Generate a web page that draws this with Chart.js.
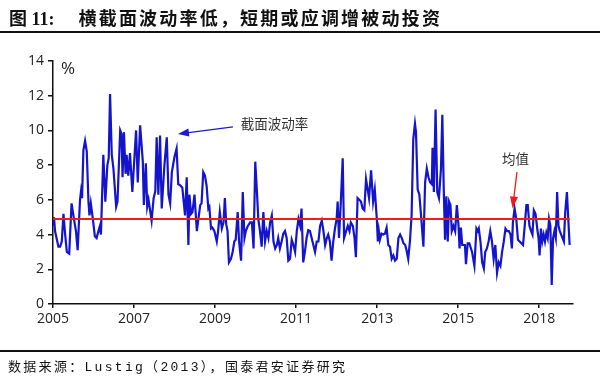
<!DOCTYPE html>
<html>
<head>
<meta charset="utf-8">
<script src="https://cdn.jsdelivr.net/npm/chart.js@4"></script>
<style>
    body { margin: 0; background: #fff; }
    #wrap { position: relative; width: 600px; height: 377px; overflow: hidden; }
    #chart { position: absolute; left: 0; top: 0; }
    .title { position: absolute; left: 9px; top: 4px; font-size: 18px; font-weight: bold; color: #111;
        font-family: "Liberation Serif", "Noto Sans CJK SC", serif; white-space: nowrap; letter-spacing: 2.2px; }
    .title .num { margin-right: 24px; letter-spacing: 0; }
    .rule { position: absolute; left: 0; width: 600px; height: 2px; background: #111; }
    .source { position: absolute; left: 8px; top: 356px; font-size: 13px; color: #111;
        font-family: "Liberation Mono", "Noto Sans CJK SC", monospace; white-space: nowrap; letter-spacing: 2.3px; }
</style>
</head>
<body>
<div id="wrap">
    <canvas id="chart" width="600" height="377"></canvas>
    <div class="title"><span class="num">图 11:</span>横截面波动率低，短期或应调增被动投资</div>
    <div class="rule" style="top:31px"></div>
    <div class="rule" style="top:350px"></div>
    <div class="source">数据来源：Lustig（2013），国泰君安证券研究</div>
</div>
<script>
// months counted from Jan 2005
const monthIdx = [
    0, 0.3, 0.6, 1.6, 2.1, 2.6, 3.1, 3.6, 4.1, 4.8, 5.5, 6.2, 6.8, 7.3, 8.0, 8.3, 8.6, 9.0, 9.5, 10.0,
    10.5, 10.8, 11.2, 11.8, 12.4, 12.9, 13.6, 13.9, 14.2, 14.9, 15.5, 16.1, 16.5, 16.9, 17.4, 17.9, 18.7, 19.1, 19.9, 20.3,
    20.6, 21.0, 21.5, 21.8, 22.3, 22.8, 23.5, 24.6, 25.1, 25.8, 26.6, 26.9, 27.5, 27.9, 28.3, 29.2, 29.8, 30.3, 30.7, 31.2,
    31.7, 32.2, 33.0, 33.7, 34.2, 34.7, 35.2, 36.0, 36.6, 37.1, 37.6, 38.3, 39.1, 39.6, 40.1, 40.4, 40.9, 41.3, 41.9, 42.6,
    43.6, 44.0, 44.5, 45.0, 45.5, 46.0, 46.3, 46.8, 47.2, 47.8, 48.5, 48.9, 49.4, 50.0, 50.5, 50.9, 51.3, 51.7, 52.1, 52.7,
    53.2, 53.7, 54.1, 54.7, 55.1, 55.7, 56.2, 56.7, 57.1, 57.7, 58.4, 58.9, 59.4, 59.9, 60.4, 60.8, 61.3, 61.8, 62.3, 62.8,
    63.3, 63.8, 64.3, 64.8, 65.3, 65.8, 66.3, 66.7, 67.2, 67.7, 68.2, 68.7, 69.2, 69.7, 70.2, 70.7, 71.2, 71.7, 72.2, 72.7,
    73.2, 73.6, 74.1, 74.6, 75.1, 75.6, 76.1, 76.6, 77.1, 77.6, 78.1, 78.6, 79.1, 79.6, 80.1, 80.6, 81.1, 81.5, 82.0, 82.5,
    83.0, 83.5, 84.0, 84.3, 84.7, 85.2, 85.8, 86.2, 86.8, 87.3, 87.8, 88.2, 88.8, 89.3, 89.7, 90.2, 90.7, 91.2, 91.7, 92.2,
    92.7, 93.6, 94.2, 94.8, 95.3, 95.9, 96.2, 96.5, 96.8, 97.3, 97.8, 98.3, 98.8, 99.3, 99.8, 100.3, 100.8, 101.3, 101.8, 102.3,
    102.8, 103.3, 103.8, 104.3, 104.7, 105.2, 105.7, 106.2, 106.7, 107.2, 107.5, 108.0, 108.5, 109.0, 109.7, 110.2, 110.7, 111.2, 111.7, 112.2,
    112.4, 112.8, 113.3, 113.8, 114.3, 114.9, 115.3, 115.7, 116.1, 116.5, 116.9, 117.3, 117.7, 118.1, 118.6, 119.1, 119.6, 120.1, 120.4, 120.8,
    121.2, 121.6, 122.0, 122.3, 122.8, 123.3, 124.1, 124.8, 125.4, 125.8, 126.1, 126.6, 127.1, 127.6, 128.0, 128.5, 129.0, 129.5, 130.0, 130.5,
    131.0, 131.5, 132.0, 132.5, 133.0, 133.5, 134.0, 134.5, 135.0, 135.5, 135.9, 136.2, 136.7, 137.2, 137.7, 138.2, 138.7, 139.2, 139.7, 140.2,
    140.6, 141.1, 141.6, 142.0, 142.4, 142.9, 143.4, 143.8, 144.1, 144.5, 144.9, 145.3, 145.7, 146.1, 146.5, 146.9, 147.3, 147.7, 148.1, 148.5,
    148.9, 149.3, 149.7, 150.1, 150.5, 150.9, 151.3, 151.7, 152.2, 152.6, 153.0
];
// cross-sectional volatility, %
const volPct = [
    4.5, 5.0, 4.2, 3.3, 3.3, 3.6, 5.2, 4.0, 3.0, 2.9, 5.8, 4.9, 4.2, 3.1, 6.0, 6.5, 6.1, 8.85, 9.4, 8.8,
    5.9, 5.1, 5.8, 4.9, 3.9, 3.8, 4.3, 4.5, 4.0, 8.6, 5.9, 8.0, 8.4, 12.1, 8.6, 7.8, 5.6, 5.9, 10.0, 9.8,
    7.3, 9.9, 7.5, 8.6, 7.4, 8.7, 6.45, 10.0, 7.0, 10.3, 8.2, 5.7, 8.1, 5.6, 6.0, 4.8, 6.1, 6.5, 9.6, 6.3,
    9.7, 5.5, 8.0, 9.6, 6.3, 5.8, 7.6, 8.5, 8.95, 6.9, 6.85, 6.7, 5.1, 7.3, 3.4, 6.3, 5.2, 5.3, 6.3, 4.2,
    5.7, 5.8, 7.6, 7.4, 6.8, 5.5, 5.6, 4.35, 4.4, 4.2, 3.6, 4.2, 5.3, 4.35, 4.7, 6.1, 4.6, 4.2, 2.4, 2.6,
    3.0, 3.6, 3.7, 5.3, 3.6, 2.5, 6.45, 3.8, 4.2, 4.5, 4.7, 4.7, 3.2, 8.2, 6.45, 4.9, 4.2, 3.3, 5.3, 3.6,
    4.2, 3.8, 4.7, 5.1, 3.6, 3.2, 3.4, 3.8, 3.2, 3.6, 4.05, 4.2, 3.8, 2.5, 2.6, 3.7, 3.4, 3.0, 4.2, 4.9,
    4.5, 5.5, 2.4, 3.0, 3.8, 4.25, 4.2, 3.8, 3.4, 3.0, 3.6, 3.6, 4.5, 4.8, 4.2, 3.4, 3.8, 4.0, 3.6, 2.5,
    3.6, 4.35, 4.9, 5.9, 3.8, 5.7, 8.4, 3.8, 4.2, 4.5, 4.2, 4.7, 4.5, 3.8, 2.7, 6.1, 6.0, 5.9, 5.5, 5.4,
    7.2, 6.1, 7.7, 5.9, 6.6, 4.9, 3.6, 4.2, 3.7, 4.05, 4.0, 4.05, 4.4, 3.4, 3.3, 2.6, 2.8, 2.5, 2.6, 3.8,
    4.0, 3.8, 3.5, 3.4, 3.1, 2.6, 3.6, 5.1, 9.5, 10.4, 9.9, 6.6, 6.3, 5.1, 3.3, 7.0, 7.8, 7.3, 7.0, 6.9,
    9.0, 6.45, 11.2, 6.45, 6.1, 7.8, 10.9, 6.8, 3.7, 6.2, 3.6, 5.9, 5.7, 4.2, 4.5, 4.2, 5.7, 4.5, 3.2, 4.4,
    3.4, 3.4, 3.4, 2.3, 3.5, 3.5, 3.0, 2.2, 4.35, 4.2, 4.35, 3.6, 2.4, 2.05, 3.0, 3.2, 3.6, 4.2, 3.6, 2.6,
    3.4, 1.8, 2.4, 2.2, 3.0, 3.6, 4.35, 4.2, 4.2, 4.0, 3.2, 4.7, 5.5, 4.9, 3.7, 3.6, 3.5, 3.4, 4.5, 5.7,
    5.7, 4.5, 4.2, 4.0, 5.4, 5.2, 4.35, 3.8, 2.8, 4.35, 3.6, 4.0, 3.6, 4.1, 3.8, 4.9, 4.5, 1.1, 3.8, 4.2,
    3.8, 6.45, 4.5, 4.2, 4.0, 3.8, 3.6, 5.3, 6.45, 4.9, 3.4
];
const meanPct = 4.9;
const tickMonths = [0, 24, 48, 72, 96, 120, 144];
const yearLabels = ['2005', '2007', '2009', '2011', '2013', '2015', '2018'];

const tickFont = { family: "'Open Sans', Lato, sans-serif", size: 14 };
const cjkFont = "'Noto Sans CJK SC', sans-serif";

// arrow from text to the line
function drawArrow(ctx, x0, y0, x1, y1, color, head, half) {
    const ang = Math.atan2(y1 - y0, x1 - x0);
    ctx.strokeStyle = color;
    ctx.fillStyle = color;
    ctx.lineWidth = 1.3;
    ctx.beginPath();
    ctx.moveTo(x0, y0);
    ctx.lineTo(x1 - Math.cos(ang) * head * 0.8, y1 - Math.sin(ang) * head * 0.8);
    ctx.stroke();
    ctx.beginPath();
    ctx.moveTo(x1, y1);
    ctx.lineTo(x1 - Math.cos(ang) * head - Math.sin(ang) * half, y1 - Math.sin(ang) * head + Math.cos(ang) * half);
    ctx.lineTo(x1 - Math.cos(ang) * head + Math.sin(ang) * half, y1 - Math.sin(ang) * head - Math.cos(ang) * half);
    ctx.closePath();
    ctx.fill();
}

const notesPlugin = {
    id: 'notes',
    afterDatasetsDraw(chart) {
        const { ctx, chartArea } = chart;
        const x = chart.scales.x, y = chart.scales.y;
        ctx.save();
        ctx.fillStyle = '#222';
        ctx.font = "17px 'Open Sans', sans-serif";
        ctx.textBaseline = 'middle';
        ctx.fillText('%', chartArea.left + 8, chartArea.top + 8);

        ctx.font = '13.5px ' + cjkFont;
        ctx.fillStyle = '#333';
        ctx.textAlign = 'left';
        ctx.fillText('截面波动率', x.getPixelForValue(55.6), y.getPixelForValue(10.35));
        drawArrow(ctx, x.getPixelForValue(53.3), y.getPixelForValue(10.2),
            x.getPixelForValue(37.0), y.getPixelForValue(9.8), '#1a1ad0', 11, 4);

        ctx.fillStyle = '#333';
        ctx.textAlign = 'center';
        ctx.fillText('均值', x.getPixelForValue(137.0), y.getPixelForValue(8.35));
        drawArrow(ctx, x.getPixelForValue(137.4), y.getPixelForValue(7.6),
            x.getPixelForValue(136.1), y.getPixelForValue(5.5), '#ee1c1c', 12, 4);
        ctx.restore();
    }
};

const ctx = document.getElementById('chart').getContext('2d');
new Chart(ctx, {
    type: 'line',
    data: {
        datasets: [
            {
                label: '均值',
                data: [{ x: 0, y: meanPct }, { x: monthIdx[monthIdx.length - 1], y: meanPct }],
                borderColor: '#ee1c1c',
                borderWidth: 2,
                pointRadius: 0,
                order: 0,
            },
            {
                label: '截面波动率',
                data: monthIdx.map((m, k) => ({ x: m, y: volPct[k] })),
                borderColor: '#1414cc',
                borderWidth: 2.2,
                pointRadius: 0,
                tension: 0,
                order: 1,
            },
        ],
    },
    options: {
        responsive: false,
        animation: false,
        layout: { padding: { left: 0, top: 61, right: 27, bottom: 43 } },
        plugins: { legend: { display: false }, tooltip: { enabled: false } },
        scales: {
            x: {
                type: 'linear', min: 0, max: 154,
                afterBuildTicks: (scale) => { scale.ticks = tickMonths.map(v => ({ value: v })); },
                afterFit: (scale) => { scale.height = 30; },
                ticks: {
                    color: '#222', font: tickFont, padding: 3, maxRotation: 0,
                    callback: (v) => yearLabels[tickMonths.indexOf(v)],
                },
                grid: { drawOnChartArea: false, drawTicks: true, tickLength: 4, color: '#111', lineWidth: 1.5 },
                border: { color: '#111', width: 1.5 },
            },
            y: {
                min: 0, max: 14,
                afterFit: (scale) => { scale.width = 53; },
                ticks: { stepSize: 2, color: '#222', font: tickFont, padding: 4 },
                grid: { drawOnChartArea: false, drawTicks: true, tickLength: 5, color: '#111', lineWidth: 1.5 },
                border: { color: '#111', width: 1.5 },
            },
        },
    },
    plugins: [notesPlugin],
});
</script>
</body>
</html>
